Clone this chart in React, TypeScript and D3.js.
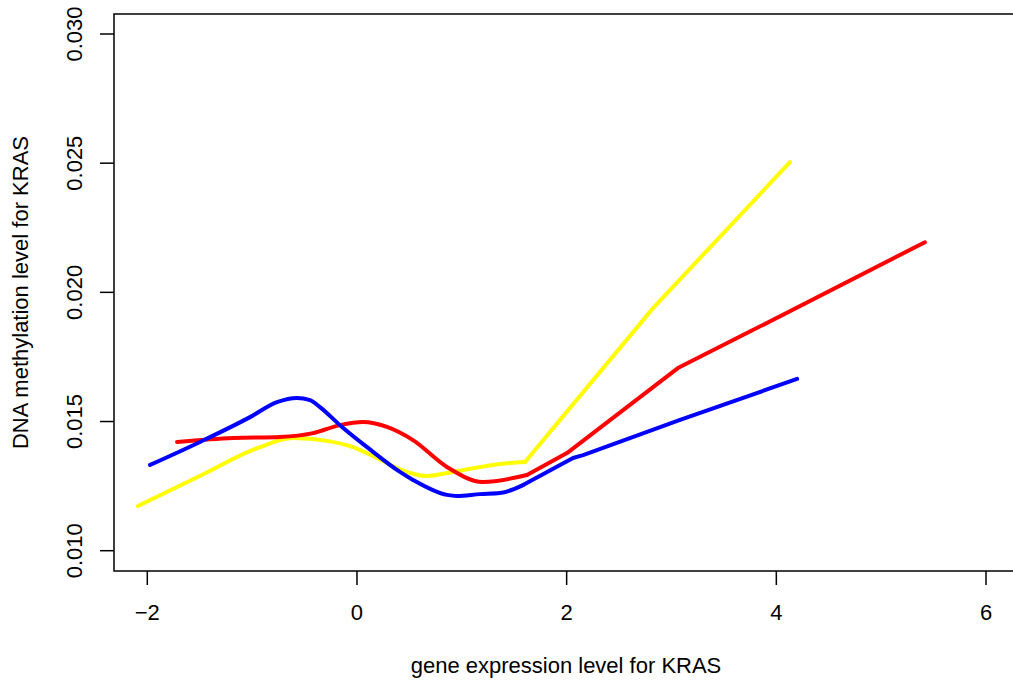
import React from "react";
import * as d3 from "d3";

// values
const xTicks = [-2, 0, 2, 4, 6];
const yTicks = [0.01, 0.015, 0.02, 0.025, 0.03];

const yellowX = [-2.089, -1.5, -0.95, -0.611, -0.287, -0.039, 0.19, 0.381, 0.668, 0.916, 1.364, 1.603, 2.824, 4.13];
const yellowY = [0.01173, 0.01289, 0.01397, 0.01436, 0.01425, 0.01401, 0.01359, 0.0132, 0.01289, 0.01305, 0.01336, 0.01343, 0.01939, 0.02504];

const redX = [-1.716, -1.182, -0.734, -0.419, -0.162, 0.057, 0.286, 0.534, 0.858, 1.201, 1.621, 2.003, 3.061, 3.776, 5.417];
const redY = [0.01421, 0.01436, 0.0144, 0.01455, 0.01486, 0.01498, 0.01479, 0.01428, 0.01324, 0.01266, 0.01293, 0.01378, 0.01707, 0.01854, 0.02194];

const blueX = [-1.974, -1.497, -1.02, -0.763, -0.573, -0.448, -0.353, -0.162, 0.096, 0.41, 0.534, 0.858, 0.954, 1.173, 1.364, 1.584, 2.061, 2.157, 3.082, 4.198];
const blueY = [0.01332, 0.01421, 0.01517, 0.01575, 0.01591, 0.01583, 0.01556, 0.01486, 0.01401, 0.01305, 0.01274, 0.01216, 0.01212, 0.01219, 0.01223, 0.01254, 0.01359, 0.0137, 0.01506, 0.01665];

// smooth part of each curve ends at this index; the rest is straight
const series = [
  { xs: yellowX, ys: yellowY, color: "#ffff00", to: 11 },
  { xs: redX, ys: redY, color: "#ff0000", to: 10 },
  { xs: blueX, ys: blueY, color: "#0000ff", to: 15 },
];

const W = 1013;
const H = 681;
const box = { left: 114, top: 14, right: 1018, bottom: 571 };
const font = "'Liberation Sans', Arial, Helvetica, sans-serif";

export default function App() {
  const x = d3.scaleLinear().domain([-2, 6]).range([147.3, 986]);
  const y = d3.scaleLinear().domain([0.01, 0.03]).range([550.7, 34]);

  const smooth = d3
    .line<[number, number]>()
    .curve(d3.curveMonotoneX)
    .x((d) => x(d[0]))
    .y((d) => y(d[1]));
  const straight = d3
    .line<[number, number]>()
    .x((d) => x(d[0]))
    .y((d) => y(d[1]));

  const pieces = (s: typeof series[number]) => {
    const pts = s.xs.map((v, j) => [v, s.ys[j]] as [number, number]);
    return [smooth(pts.slice(0, s.to + 1)) || "", straight(pts.slice(s.to)) || ""];
  };

  return (
    <svg
      width={W}
      height={H}
      style={{ position: "absolute", left: 0, top: 0, background: "#fff" }}
      fontFamily={font}
    >
      <rect
        x={box.left}
        y={box.top}
        width={box.right - box.left}
        height={box.bottom - box.top}
        fill="none"
        stroke="#000"
        strokeWidth={1.5}
      />

      {series.map((s, i) => (
        <g key={i}>
          {pieces(s).map((d, k) => (
            <path
              key={k}
              d={d}
              fill="none"
              stroke={s.color}
              strokeWidth={4}
              strokeLinecap="round"
              strokeLinejoin="round"
            />
          ))}
        </g>
      ))}

      {/* x axis */}
      {xTicks.map((t) => (
        <g key={t}>
          <line x1={x(t)} x2={x(t)} y1={box.bottom} y2={box.bottom + 14} stroke="#000" strokeWidth={1.5} />
          <text x={x(t)} y={620} fontSize={22} textAnchor="middle">
            {t < 0 ? "\u2212" + Math.abs(t) : t}
          </text>
        </g>
      ))}
      <text x={(box.left + box.right) / 2} y={673} fontSize={22} textAnchor="middle">
        gene expression level for KRAS
      </text>

      {/* y axis */}
      {yTicks.map((t) => (
        <g key={t}>
          <line x1={box.left - 14} x2={box.left} y1={y(t)} y2={y(t)} stroke="#000" strokeWidth={1.5} />
          <text
            transform={`translate(82,${y(t)}) rotate(-90)`}
            fontSize={22}
            textAnchor="middle"
          >
            {d3.format(".3f")(t)}
          </text>
        </g>
      ))}
      <text
        transform={`translate(28,${(box.top + box.bottom) / 2}) rotate(-90)`}
        fontSize={22}
        textAnchor="middle"
      >
        DNA methylation level for KRAS
      </text>
    </svg>
  );
}
